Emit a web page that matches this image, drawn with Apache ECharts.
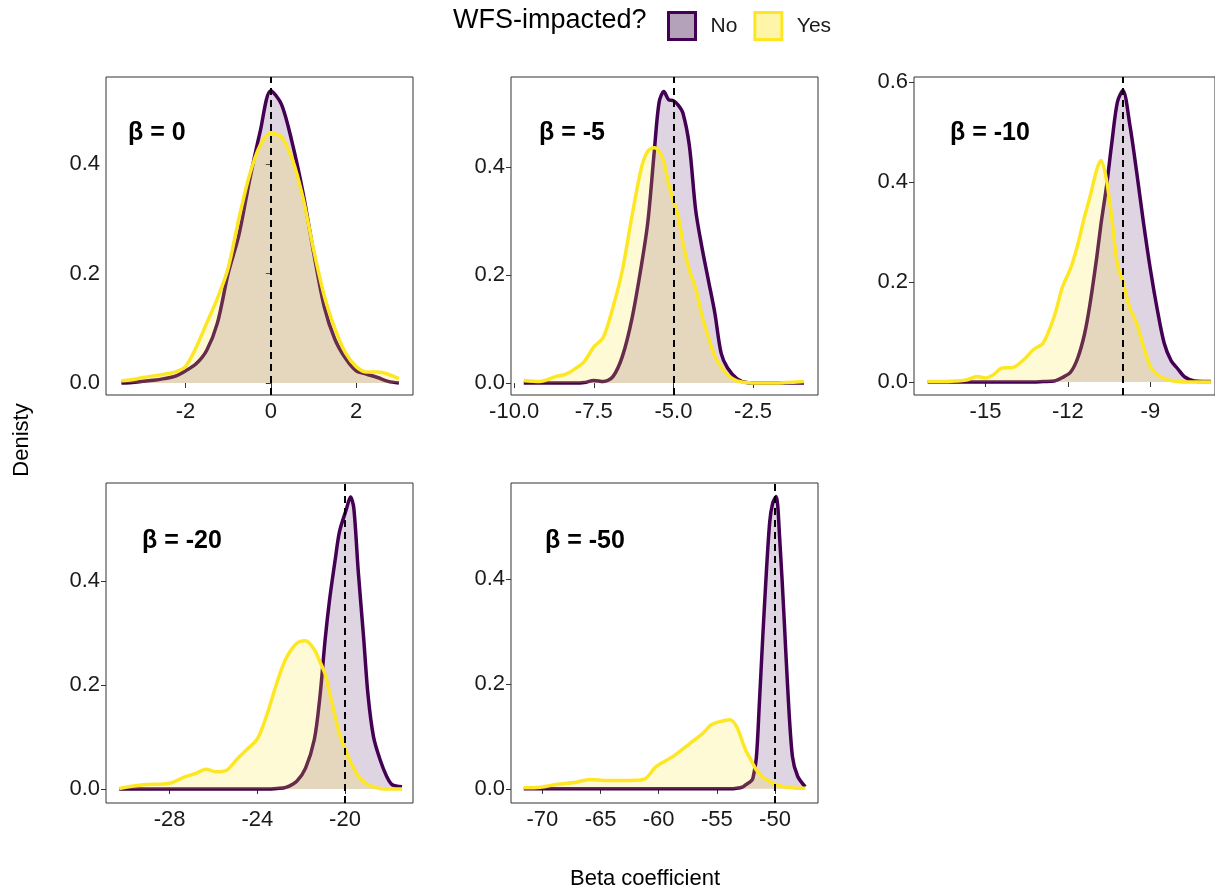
<!DOCTYPE html>
<html>
<head>
<meta charset="utf-8">
<script src="https://cdn.jsdelivr.net/npm/echarts@6/dist/echarts.min.js"></script>
<style>
  html, body { margin: 0; padding: 0; background: #fff; }
  #main { width: 1215px; height: 890px; }
</style>
</head>
<body>
<div id="main"></div>
<script>
// density curves, one x grid per panel
var p1X   = [-3.5,-3.25,-3,-2.75,-2.5,-2.25,-2,-1.75,-1.5,-1.25,-1,-0.75,-0.5,-0.25,0,0.25,0.5,0.75,1,1.25,1.5,1.75,2,2.25,2.5,2.75,3];
var p1No  = [0,0.001,0.003,0.005,0.008,0.012,0.022,0.035,0.06,0.11,0.2,0.27,0.37,0.46,0.535,0.51,0.44,0.35,0.24,0.14,0.08,0.045,0.022,0.016,0.01,0.003,0];
var p1Yes = [0.004,0.006,0.01,0.013,0.016,0.02,0.03,0.065,0.11,0.155,0.21,0.3,0.38,0.435,0.457,0.45,0.41,0.34,0.245,0.16,0.1,0.055,0.03,0.02,0.02,0.016,0.008];

var p2X   = [-9.7,-9.2,-8.7,-8.4,-8.1,-7.8,-7.5,-7.2,-6.9,-6.6,-6.3,-6.0,-5.8,-5.6,-5.45,-5.3,-5.15,-5.0,-4.85,-4.7,-4.5,-4.3,-4.1,-3.9,-3.7,-3.5,-3.3,-3.0,-2.7,-2.4,-2.0,-1.5,-0.9];
var p2No  = [0,0,0,0,0,0.001,0.005,0.003,0.012,0.05,0.12,0.22,0.30,0.43,0.52,0.54,0.525,0.523,0.515,0.50,0.44,0.32,0.25,0.19,0.13,0.055,0.028,0.008,0.001,0,0,0,0];
var p2Yes = [0.005,0.003,0.012,0.016,0.026,0.04,0.067,0.085,0.14,0.21,0.31,0.40,0.43,0.436,0.43,0.41,0.37,0.338,0.31,0.26,0.21,0.175,0.125,0.085,0.05,0.03,0.015,0.004,0.001,0,0,0.001,0.003];

var p3X   = [-17.1,-16.6,-16.1,-15.7,-15.3,-15.0,-14.7,-14.4,-14.0,-13.6,-13.25,-12.9,-12.5,-12.2,-11.9,-11.65,-11.4,-11.2,-10.95,-10.8,-10.6,-10.4,-10.2,-10.0,-9.75,-9.5,-9.25,-9.0,-8.75,-8.5,-8.25,-8.0,-7.75,-7.4,-7.1,-6.8];
var p3No  = [0,0,0,0,0,0,0,0,0,0,0,0.001,0.002,0.009,0.02,0.047,0.095,0.155,0.25,0.315,0.39,0.48,0.56,0.583,0.515,0.42,0.318,0.225,0.145,0.078,0.043,0.026,0.01,0.002,0.001,0.001];
var p3Yes = [0.001,0.001,0.002,0.004,0.011,0.008,0.015,0.028,0.029,0.045,0.065,0.078,0.131,0.19,0.228,0.273,0.33,0.37,0.425,0.443,0.405,0.325,0.235,0.2,0.148,0.118,0.071,0.031,0.015,0.007,0.003,0.001,0,0,0,0];

var p4X   = [-30.3,-29.2,-28.0,-27.25,-26.8,-26.35,-25.9,-25.4,-24.95,-24.5,-24.0,-23.6,-23.1,-22.7,-22.2,-21.8,-21.4,-21.15,-20.9,-20.7,-20.45,-20.25,-19.95,-19.75,-19.6,-19.4,-19.15,-18.95,-18.7,-18.4,-18.1,-17.85,-17.4];
var p4No  = [0,0,0,0,0,0,0,0,0,0,0,0,0.001,0.003,0.015,0.04,0.095,0.175,0.29,0.365,0.44,0.495,0.536,0.561,0.54,0.42,0.29,0.18,0.1,0.056,0.024,0.008,0.004];
var p4Yes = [0.001,0.008,0.011,0.024,0.03,0.038,0.033,0.036,0.056,0.075,0.096,0.138,0.205,0.25,0.28,0.285,0.268,0.245,0.22,0.185,0.14,0.105,0.072,0.052,0.04,0.025,0.014,0.008,0.004,0.001,0,0,0];

var p5X   = [-71.6,-70.2,-68.7,-67.3,-65.9,-64.4,-63.0,-61.3,-60.2,-58.75,-57.3,-56.2,-55.5,-54.8,-53.9,-53.3,-52.75,-52.5,-52.05,-51.9,-51.6,-51.35,-51.05,-50.75,-50.45,-50.2,-49.9,-49.6,-49.2,-48.9,-48.5,-48.05,-47.4];
var p5No  = [0,0,0,0,0,0,0,0,0,0,0,0,0,0,0,0.001,0.004,0.008,0.015,0.02,0.06,0.16,0.29,0.41,0.51,0.545,0.558,0.48,0.32,0.19,0.062,0.024,0.004];
var p5Yes = [0.002,0.003,0.009,0.012,0.018,0.016,0.016,0.018,0.043,0.062,0.087,0.106,0.122,0.128,0.132,0.119,0.087,0.073,0.055,0.048,0.036,0.03,0.022,0.018,0.014,0.011,0.008,0.006,0.004,0.003,0.002,0.001,0.001];

var trueBeta   = [0, -5, -10, -20, -50];
var panelNames = ['β = 0', 'β = -5', 'β = -10', 'β = -20', 'β = -50'];
var xTickVals  = [[-2, 0, 2], [-10, -7.5, -5, -2.5], [-15, -12, -9], [-28, -24, -20], [-70, -65, -60, -55, -50]];
var yTickVals  = [[0, 0.2, 0.4], [0, 0.2, 0.4], [0, 0.2, 0.4, 0.6], [0, 0.2, 0.4], [0, 0.2, 0.4]];
var seriesNames = ['No', 'Yes'];
var legendTitle = 'WFS-impacted?';

var xData   = [p1X, p2X, p3X, p4X, p5X];
var noData  = [p1No, p2No, p3No, p4No, p5No];
var yesData = [p1Yes, p2Yes, p3Yes, p4Yes, p5Yes];

// layout of the facets (pixels) and axis extents; the third panel runs off the right edge
var layout = [
  { left: 106, top: 77,  width: 307, height: 318, xr: [-3.86, 3.33],  yr: [-0.022, 0.56],  dec: 0, lab: [128, 121] },
  { left: 511, top: 77,  width: 307, height: 318, xr: [-10.1, -0.46], yr: [-0.022, 0.567], dec: 1, lab: [539, 121] },
  { left: 914, top: 77,  width: 301, height: 318, xr: [-17.6, -6.65], yr: [-0.026, 0.61],  dec: 0, lab: [950, 121] },
  { left: 106, top: 483, width: 307, height: 320, xr: [-30.9, -16.9], yr: [-0.027, 0.588], dec: 0, lab: [142, 529] },
  { left: 511, top: 483, width: 307, height: 320, xr: [-72.7, -46.3], yr: [-0.027, 0.584], dec: 0, lab: [545, 529] }
];

var FONT = 'Liberation Sans, Arial, sans-serif';
var PURPLE = '#440154', YELLOW = '#FDE725';

function pairs(xs, ys) {
  var out = [];
  for (var i = 0; i < xs.length; i++) out.push([xs[i], ys[i]]);
  return out;
}

var grids = [], xAxes = [], yAxes = [], series = [], titles = [];
layout.forEach(function (L, i) {
  grids.push({ left: L.left, top: L.top, width: L.width, height: L.height,
    show: true, borderColor: '#333', borderWidth: 1, backgroundColor: 'transparent' });
  xAxes.push({
    type: 'value', gridIndex: i, min: L.xr[0], max: L.xr[1],
    axisLine: { show: false },
    splitLine: { show: false },
    axisTick: { show: true, customValues: xTickVals[i], length: 5, lineStyle: { color: '#333', width: 1 } },
    axisLabel: { customValues: xTickVals[i], margin: 6, color: '#1a1a1a', fontSize: 22, fontFamily: FONT,
      formatter: (function (d) { return function (v) { return v.toFixed(d); }; })(L.dec) }
  });
  yAxes.push({
    type: 'value', gridIndex: i, min: L.yr[0], max: L.yr[1],
    axisLine: { show: false },
    splitLine: { show: false },
    axisTick: { show: true, customValues: yTickVals[i], length: 5, lineStyle: { color: '#333', width: 1 } },
    axisLabel: { customValues: yTickVals[i], margin: 6, color: '#1a1a1a', fontSize: 22, fontFamily: FONT,
      formatter: function (v) { return v.toFixed(1); } }
  });
  series.push({
    name: seriesNames[0], type: 'line', xAxisIndex: i, yAxisIndex: i,
    data: pairs(xData[i], noData[i]), showSymbol: false, smooth: 0.3, z: 2,
    lineStyle: { color: PURPLE, width: 3.5 }, itemStyle: { color: PURPLE },
    areaStyle: { color: 'rgba(68,1,84,0.24)' }
  });
  series.push({
    name: seriesNames[1], type: 'line', xAxisIndex: i, yAxisIndex: i,
    data: pairs(xData[i], yesData[i]), showSymbol: false, smooth: 0.3, z: 3,
    lineStyle: { color: YELLOW, width: 3.5 }, itemStyle: { color: YELLOW },
    areaStyle: { color: 'rgba(253,231,37,0.27)' },
    markLine: {
      silent: true, symbol: 'none', animation: false, z: 10,
      label: { show: false },
      lineStyle: { color: '#000', type: [7, 5], width: 2 },
      data: [{ xAxis: trueBeta[i] }]
    }
  });
  titles.push({ text: panelNames[i], left: L.lab[0], top: L.lab[1], padding: 0,
    textStyle: { fontSize: 25, fontWeight: 'bold', fontFamily: FONT, color: '#000' } });
});

var chart = echarts.init(document.getElementById('main'), null, { renderer: 'canvas' });
chart.setOption({
  animation: false,
  backgroundColor: '#fff',
  title: titles,
  legend: {
    left: 662, top: 6, itemWidth: 27, itemHeight: 27, itemGap: 16,
    textStyle: { fontSize: 21, fontFamily: FONT, color: '#1a1a1a', padding: [0, 0, 0, 10] },
    data: [
      { name: 'No', icon: 'rect', itemStyle: { color: '#b3a2ba', borderColor: PURPLE, borderWidth: 3 } },
      { name: 'Yes', icon: 'rect', itemStyle: { color: '#fef5a8', borderColor: YELLOW, borderWidth: 3 } }
    ]
  },
  graphic: [
    { type: 'text', left: 453, top: 7, style: { text: legendTitle, font: '27px ' + FONT, fill: '#000' } },
    { type: 'text', x: 22, y: 440, rotation: Math.PI / 2,
      style: { text: 'Denisty', font: '22px ' + FONT, fill: '#000', align: 'center', verticalAlign: 'middle' } },
    { type: 'text', x: 645, y: 879,
      style: { text: 'Beta coefficient', font: '22px ' + FONT, fill: '#000', align: 'center', verticalAlign: 'middle' } }
  ],
  grid: grids,
  xAxis: xAxes,
  yAxis: yAxes,
  series: series
});
</script>
</body>
</html>
